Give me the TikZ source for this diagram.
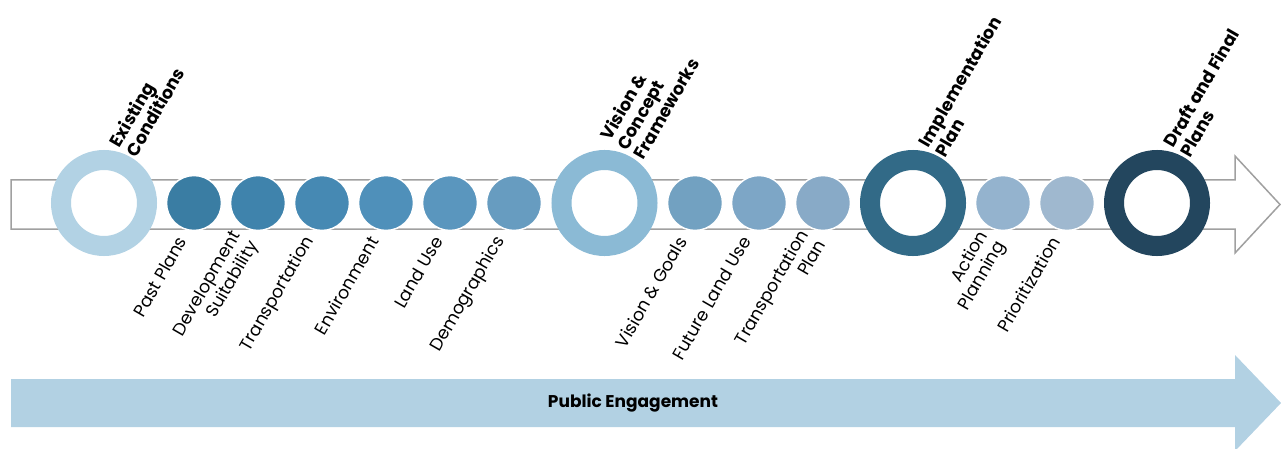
\documentclass[tikz,border=0pt]{standalone}
\usepackage{fontspec}
\setmainfont{Poppins}
\definecolor{outl}{HTML}{A0A0A0}
\definecolor{peng}{HTML}{B2D1E3}
\definecolor{rA}{HTML}{B2D2E4}
\definecolor{rB}{HTML}{8BBAD5}
\definecolor{rC}{HTML}{326A87}
\definecolor{rD}{HTML}{23465E}
\definecolor{c1}{HTML}{3A7DA3}
\definecolor{c2}{HTML}{3F83AC}
\definecolor{c3}{HTML}{4689B3}
\definecolor{c4}{HTML}{4F90BA}
\definecolor{c5}{HTML}{5A96BE}
\definecolor{c6}{HTML}{679CC0}
\definecolor{c7}{HTML}{72A1C1}
\definecolor{c8}{HTML}{7DA6C6}
\definecolor{c9}{HTML}{88AAC7}
\definecolor{c10}{HTML}{94B3CE}
\definecolor{c11}{HTML}{9FB8CF}
\tikzset{
  ring/.style={circle, fill=white, draw=#1, line width=20pt, minimum size=86pt, inner sep=0pt},
  dot/.style={circle, fill=#1, draw=white, line width=1.5pt, minimum size=55pt, inner sep=0pt},
  lbl/.style={anchor=east, rotate=60, align=right, inner sep=0pt, font=\fontsize{17.5}{20}\selectfont},
  toplbl/.style={anchor=west, rotate=60, align=left, inner sep=0pt, font=\bfseries\fontsize{17.5}{19}\selectfont},
}
\begin{document}
\begin{tikzpicture}[x=1pt,y=-1pt]
\useasboundingbox (0,0) rectangle (1281,449);
\clip (0,0) rectangle (1281,449);
% main outlined arrow
\draw[outl, line width=1.5pt, fill=white, line join=miter]
  (11,180) -- (1235,180) -- (1235,156) -- (1280,204.5) -- (1235,253) -- (1235,229) -- (11,229) -- cycle;
% public engagement arrow
\fill[peng] (11,379) -- (1235,379) -- (1235,355) -- (1281,403) -- (1235,451) -- (1235,427) -- (11,427) -- cycle;
\node[font=\bfseries\fontsize{17}{20}\selectfont] (pe) at (633,403) {Public Engagement};
% rings
\node[ring=rA] (existing) at (104,203) {};
\node[ring=rB] (vision) at (604.5,203) {};
\node[ring=rC] (impl) at (913,203) {};
\node[ring=rD] (draft) at (1157,203) {};
% dots
\node[dot=c1] (d1) at (194,203) {};
\node[dot=c2] (d2) at (258,203) {};
\node[dot=c3] (d3) at (322,203) {};
\node[dot=c4] (d4) at (386,203) {};
\node[dot=c5] (d5) at (450,203) {};
\node[dot=c6] (d6) at (514,203) {};
\node[dot=c7] (d7) at (695,203) {};
\node[dot=c8] (d8) at (759,203) {};
\node[dot=c9] (d9) at (823,203) {};
\node[dot=c10] (d10) at (1003,203) {};
\node[dot=c11] (d11) at (1067,203) {};
% top labels
\node[toplbl] (lexisting) at (122,150) {Existing\\Conditions};
\node[toplbl] (lvision) at (621,148) {Vision \&\\Concept\\Frameworks};
\node[toplbl] (limpl) at (931,150) {Implementation\\Plan};
\node[toplbl] (ldraft) at (1176,150) {Draft and Final\\Plans};
% bottom labels
\node[lbl] (l1) at (182,238) {Past Plans};
\node[lbl] (l2) at (246,238) {Development\\Suitability};
\node[lbl] (l3) at (310,238) {Transportation};
\node[lbl] (l4) at (374,238) {Environment};
\node[lbl] (l5) at (438,238) {Land Use};
\node[lbl] (l6) at (501,238) {Demographics};
\node[lbl] (l7) at (682,238) {Vision \& Goals};
\node[lbl] (l8) at (746,238) {Future Land Use};
\node[lbl] (l9) at (812,236) {Transportation\\Plan};
\node[lbl] (l10) at (993,238) {Action\\Planning};
\node[lbl] (l11) at (1055,238) {Prioritization};
\end{tikzpicture}
\end{document}
